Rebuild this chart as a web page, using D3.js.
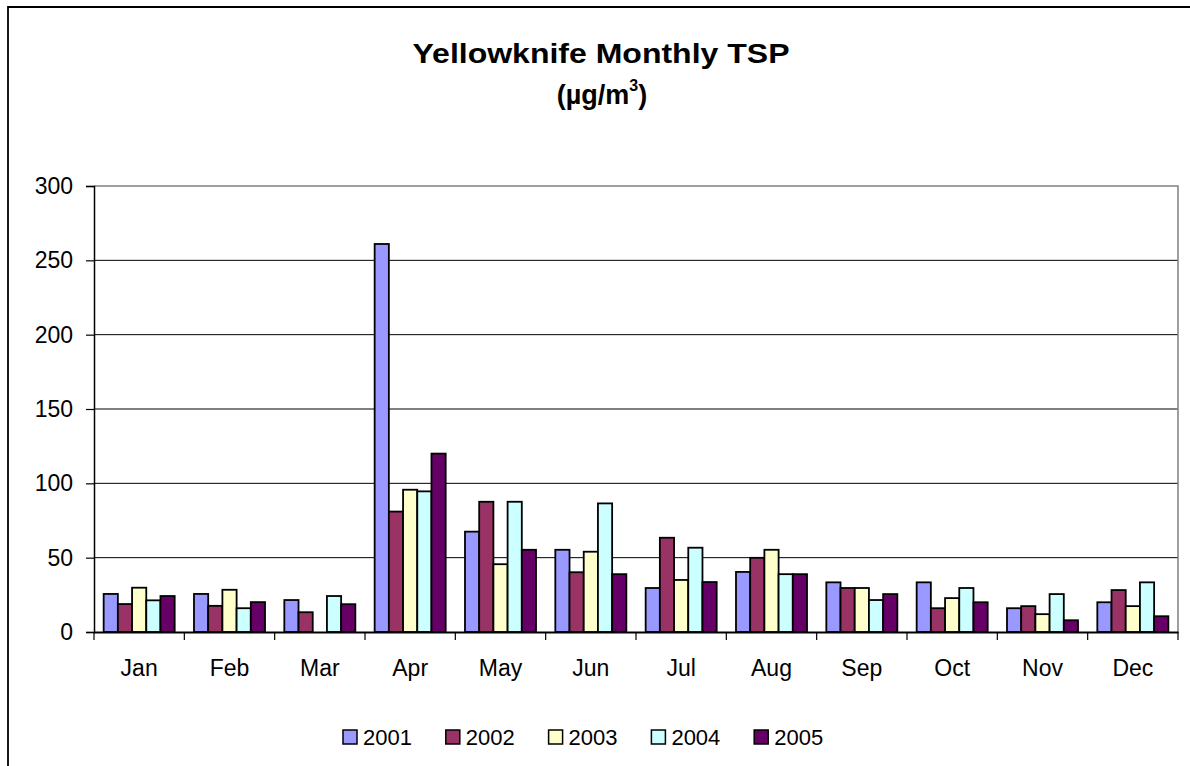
<!DOCTYPE html>
<html>
<head>
<meta charset="utf-8">
<script src="https://cdn.jsdelivr.net/npm/d3@7"></script>
<style>
  html, body { margin: 0; padding: 0; background: #fff; }
  svg { display: block; font-family: "Liberation Sans", Arial, sans-serif; }
</style>
</head>
<body>
<svg id="chart" width="1190" height="766"></svg>
<script>
const months = ["Jan","Feb","Mar","Apr","May","Jun","Jul","Aug","Sep","Oct","Nov","Dec"];
const years = ["2001","2002","2003","2004","2005"];
const v2001 = [25.6, 25.6, 21.5, 261, 67.5, 55.3, 29.6, 40.4, 33.4, 33.4, 16, 20];
const v2002 = [18.8, 17.6, 13.3, 81, 87.6, 40.2, 63.4, 49.9, 29.6, 16, 17.4, 28.2];
const v2003 = [29.8, 28.4, null, 95.7, 45.6, 54, 35, 55.3, 29.6, 22.8, 12, 17.4];
const v2004 = [21.3, 16, 24.2, 94.6, 87.6, 86.5, 56.7, 38.9, 21.5, 29.6, 25.5, 33.4];
const v2005 = [24.2, 20.1, 18.7, 120, 55.3, 38.9, 33.6, 38.9, 25.5, 20, 7.9, 10.6];
const seriesValues = [v2001, v2002, v2003, v2004, v2005];
const colors = ["#9999FF", "#993366", "#FFFFCC", "#CCFFFF", "#660066"];
const yTicks = [0, 50, 100, 150, 200, 250, 300];

const svg = d3.select("#chart");
const pLeft = 94, pRight = 1178, pTop = 186, pBottom = 632;

// outer chart border (left and top)
svg.append("path")
  .attr("d", `M8,766 L8,7 L1190,7`)
  .attr("fill", "none").attr("stroke", "#000").attr("stroke-width", 1.8);

const x = d3.scaleBand().domain(months).range([pLeft, pRight]).paddingInner(0).paddingOuter(0);
const x1 = d3.scaleBand().domain(years).range([0, x.bandwidth()]).paddingInner(0).paddingOuter(0.68);
const y = d3.scaleLinear().domain([0, 300]).range([pBottom, pTop]);

// gridlines
svg.append("g").selectAll("line").data(yTicks.filter(t => t > 0 && t < 300)).join("line")
  .attr("x1", pLeft).attr("x2", pRight)
  .attr("y1", d => y(d)).attr("y2", d => y(d))
  .attr("stroke", "#000").attr("stroke-width", 1);

// plot area border top & right (gray)
svg.append("path")
  .attr("d", `M${pLeft},${y(300)} L${pRight},${y(300)} L${pRight},${pBottom}`)
  .attr("fill", "none").attr("stroke", "#808080").attr("stroke-width", 1.5);

// bars
const rows = [];
months.forEach((m, i) => years.forEach((yr, j) => {
  const v = seriesValues[j][i];
  if (v != null) rows.push({ m, yr, v, c: colors[j] });
}));
svg.append("g").selectAll("rect").data(rows).join("rect")
  .attr("x", d => x(d.m) + x1(d.yr))
  .attr("y", d => y(d.v))
  .attr("width", x1.bandwidth())
  .attr("height", d => y(0) - y(d.v))
  .attr("fill", d => d.c)
  .attr("stroke", "#000").attr("stroke-width", 1.8);

// y axis
const yAxis = svg.append("g").attr("transform", `translate(${pLeft},0)`)
  .call(d3.axisLeft(y).tickValues(yTicks).tickSize(8).tickPadding(13).tickFormat(d3.format("d")));
yAxis.select(".domain").attr("stroke", "#000").attr("stroke-width", 1.5);
yAxis.selectAll(".tick line").attr("stroke", "#000").attr("stroke-width", 1.2);
yAxis.selectAll("text").attr("font-size", 23).attr("fill", "#000")
  .attr("font-family", '"Liberation Sans", Arial, sans-serif');

// x axis
const xAxis = svg.append("g").attr("transform", `translate(0,${pBottom})`)
  .call(d3.axisBottom(x).tickSize(0).tickPadding(28));
xAxis.select(".domain").attr("stroke", "#000").attr("stroke-width", 2);
xAxis.selectAll("text").attr("font-size", 23).attr("fill", "#000")
  .attr("font-family", '"Liberation Sans", Arial, sans-serif');
// boundary ticks
const bounds = months.map(m => x(m)).concat([pRight]);
svg.append("g").selectAll("line").data(bounds).join("line")
  .attr("x1", d => d).attr("x2", d => d)
  .attr("y1", pBottom).attr("y2", pBottom + 8)
  .attr("stroke", "#000").attr("stroke-width", 1.2);

// title
svg.append("text").attr("x", 601).attr("y", 63).attr("text-anchor", "middle")
  .attr("font-size", 28).attr("font-weight", "bold")
  .attr("textLength", 377).attr("lengthAdjust", "spacingAndGlyphs")
  .text("Yellowknife Monthly TSP");
const sub = svg.append("text").attr("x", 602).attr("y", 104).attr("text-anchor", "middle")
  .attr("font-size", 27).attr("font-weight", "bold");
sub.append("tspan").text("(µg/m");
sub.append("tspan").attr("dy", -13).attr("font-size", 16).text("3");
sub.append("tspan").attr("dy", 13).text(")");

// legend
const legend = svg.append("g");
const lg = legend.selectAll("g").data(years).join("g")
  .attr("transform", (d, i) => `translate(${343 + i * 102.8},730)`);
lg.append("rect").attr("width", 14).attr("height", 14)
  .attr("fill", (d, i) => colors[i]).attr("stroke", "#000").attr("stroke-width", 1.5);
lg.append("text").attr("x", 20).attr("y", 14.5).attr("font-size", 22).text(d => d);
</script>
</body>
</html>
